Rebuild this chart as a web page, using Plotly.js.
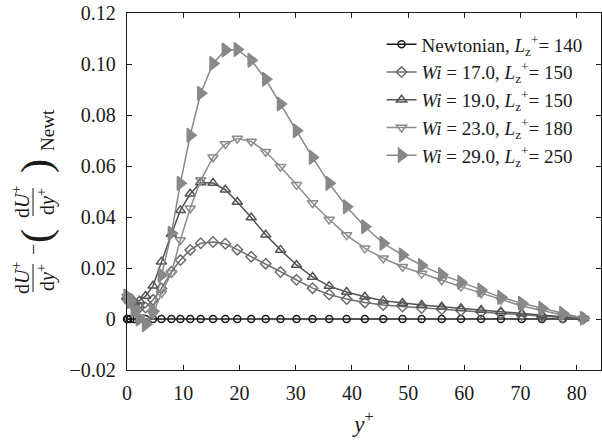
<!DOCTYPE html>
<html>
<head>
<meta charset="utf-8">
<script src="https://cdn.plot.ly/plotly-3.0.1.min.js"></script>
<style>html,body{margin:0;padding:0;background:#fff;}#chart{width:602px;height:445px;}</style>
</head>
<body>
<div id="chart"></div>
<script>
// y+ grid (shared by all cases)
var yPlus = [0, 0.2, 0.6, 1.3, 2.2, 3.3, 4.63, 6.12, 7.9, 9.49, 11.25, 13.11, 15.3, 17.49, 19.62, 22.09, 24.67, 27.3, 30.15, 33.0, 35.96, 39.06, 42.3, 45.57, 49.0, 52.4, 55.97, 59.4, 62.97, 66.5, 70.2, 73.8, 77.5, 81.2];

var newtonian = [0, 0, 0, 0, 0, 0, 0, 0, 0, 0, 0, 0, 0, 0, 0, 0, 0, 0, 0, 0, 0, 0, 0, 0, 0, 0, 0, 0, 0, 0, 0, 0, 0, 0];
var wi17 = [0.0080, 0.0078, 0.0070, 0.0056, 0.0045, 0.0045, 0.0075, 0.0120, 0.0185, 0.0231, 0.0271, 0.0297, 0.0302, 0.0295, 0.0272, 0.0244, 0.0217, 0.0184, 0.0154, 0.0121, 0.0096, 0.0078, 0.0065, 0.0055, 0.0049, 0.0043, 0.0038, 0.0033, 0.0027, 0.0022, 0.0016, 0.0011, 0.0006, 0.0002];
var wi19 = [0.0085, 0.0082, 0.0075, 0.0068, 0.0072, 0.0090, 0.0130, 0.0225, 0.0333, 0.0426, 0.0491, 0.0535, 0.0533, 0.0507, 0.0459, 0.0398, 0.0330, 0.0271, 0.0212, 0.0165, 0.0129, 0.0106, 0.0087, 0.0072, 0.0063, 0.0055, 0.0048, 0.0042, 0.0035, 0.0029, 0.0022, 0.0015, 0.0008, 0.0002];
var wi23 = [0.0088, 0.0085, 0.0070, 0.0040, 0.0008, -0.0012, 0.0020, 0.0101, 0.0180, 0.0310, 0.0434, 0.0545, 0.0634, 0.0686, 0.0708, 0.0696, 0.0656, 0.0597, 0.0526, 0.0455, 0.0390, 0.0329, 0.0277, 0.0238, 0.0205, 0.0178, 0.0152, 0.0127, 0.0101, 0.0075, 0.0051, 0.0033, 0.0016, 0.0003];
var wi29 = [0.0090, 0.0086, 0.0068, 0.0035, 0.0000, -0.0022, 0.0030, 0.0172, 0.0336, 0.0532, 0.0721, 0.0885, 0.1002, 0.1055, 0.1057, 0.1015, 0.0940, 0.0843, 0.0738, 0.0634, 0.0532, 0.0440, 0.0362, 0.0297, 0.0251, 0.0210, 0.0174, 0.0144, 0.0114, 0.0085, 0.0062, 0.0042, 0.0022, 0.0003];

var seriesNames = [
  'Newtonian, <i>L</i><sub>z</sub><sup>+</sup>= 140',
  '<i>Wi</i> = 17.0, <i>L</i><sub>z</sub><sup>+</sup>= 150',
  '<i>Wi</i> = 19.0, <i>L</i><sub>z</sub><sup>+</sup>= 150',
  '<i>Wi</i> = 23.0, <i>L</i><sub>z</sub><sup>+</sup>= 180',
  '<i>Wi</i> = 29.0, <i>L</i><sub>z</sub><sup>+</sup>= 250'
];
var seriesData = [newtonian, wi17, wi19, wi23, wi29];
var seriesColors = ['#1a1a1a', '#6e6e6e', '#545454', '#8c8c8c', '#888888'];
var seriesSymbols = ['circle-open', 'diamond-open', 'triangle-up-open', 'triangle-down-open', 'triangle-right'];
var seriesSizes = [7, 8, 9, 9, 12];

var yTickVals = [-0.02, 0, 0.02, 0.04, 0.06, 0.08, 0.10, 0.12];
var yTickText = ['\u22120.02', '0', '0.02', '0.04', '0.06', '0.08', '0.10', '0.12'];
var xTickVals = [0, 10, 20, 30, 40, 50, 60, 70, 80];

var traces = seriesData.map(function (d, i) {
  return {
    x: yPlus, y: d, name: seriesNames[i], type: 'scatter', mode: 'lines+markers',
    line: {color: seriesColors[i], width: 1.5},
    marker: {symbol: seriesSymbols[i], size: seriesSizes[i], color: seriesColors[i],
             line: {color: seriesColors[i], width: 1.5}},
    cliponaxis: false
  };
});

var FONT = '"Liberation Serif", "DejaVu Serif", serif';
// y-axis title pieces: pixel positions relative to plot origin (left=127, bottom=370)
function px2x(px) { return px - 127; }
function py2y(py) { return 370 - py; }
function ann(text, px, py, size) {
  return {xref: 'paper', yref: 'paper', x: 0, y: 0, xshift: px2x(px), yshift: py2y(py),
          text: text, showarrow: false, textangle: -90, xanchor: 'center', yanchor: 'middle',
          font: {family: FONT, size: size, color: '#1a1a1a'}};
}
var annotations = [
  ann('d<i>U</i><sup>+</sup>', 21, 278, 20),
  ann('d<i>y</i><sup>+</sup>', 46, 278, 20),
  ann('\u2212', 33, 250, 20),
  ann('(', 36, 236, 42),
  ann('d<i>U</i><sup>+</sup>', 21, 202, 20),
  ann('d<i>y</i><sup>+</sup>', 46, 202, 20),
  ann(')', 36, 166, 42),
  ann('Newt', 47, 130, 19)
];
var shapes = [
  {type: 'line', xref: 'paper', yref: 'paper', x0: (33 - 127) / 474, x1: (33 - 127) / 474,
   y0: (370 - 264) / 357, y1: (370 - 292) / 357, line: {color: '#1a1a1a', width: 1}},
  {type: 'line', xref: 'paper', yref: 'paper', x0: (33 - 127) / 474, x1: (33 - 127) / 474,
   y0: (370 - 188) / 357, y1: (370 - 216) / 357, line: {color: '#1a1a1a', width: 1}}
];

var layout = {
  width: 602, height: 445,
  margin: {l: 127, r: 1, t: 13, b: 75},
  paper_bgcolor: '#ffffff', plot_bgcolor: '#ffffff',
  font: {family: FONT, size: 20, color: '#1a1a1a'},
  showlegend: true,
  legend: {x: 0.537, y: 0.965, xanchor: 'left', yanchor: 'top', bgcolor: 'rgba(0,0,0,0)',
           font: {family: FONT, size: 19, color: '#1a1a1a'}, tracegroupgap: 0, itemwidth: 30},
  xaxis: {range: [0, 84.3], tickvals: xTickVals, ticks: 'inside', ticklen: 5, tickwidth: 1,
          tickcolor: '#1a1a1a', showline: true, linecolor: '#1a1a1a', linewidth: 1.3,
          mirror: 'ticks', showgrid: false, zeroline: false,
          tickfont: {family: FONT, size: 20, color: '#1a1a1a'}, ticklabelstandoff: 5,
          title: {text: '<i>y</i><sup>+</sup>', font: {family: FONT, size: 23, color: '#1a1a1a'}, standoff: 12}},
  yaxis: {range: [-0.02, 0.12], tickvals: yTickVals, ticktext: yTickText, ticks: 'inside', ticklen: 5,
          tickwidth: 1, tickcolor: '#1a1a1a', showline: true, linecolor: '#1a1a1a', linewidth: 1.3,
          mirror: 'ticks', showgrid: false, zeroline: false,
          tickfont: {family: FONT, size: 20, color: '#1a1a1a'}, ticklabelstandoff: 6},
  annotations: annotations,
  shapes: shapes
};

Plotly.newPlot('chart', traces, layout, {staticPlot: true, displayModeBar: false});
</script>
</body>
</html>
